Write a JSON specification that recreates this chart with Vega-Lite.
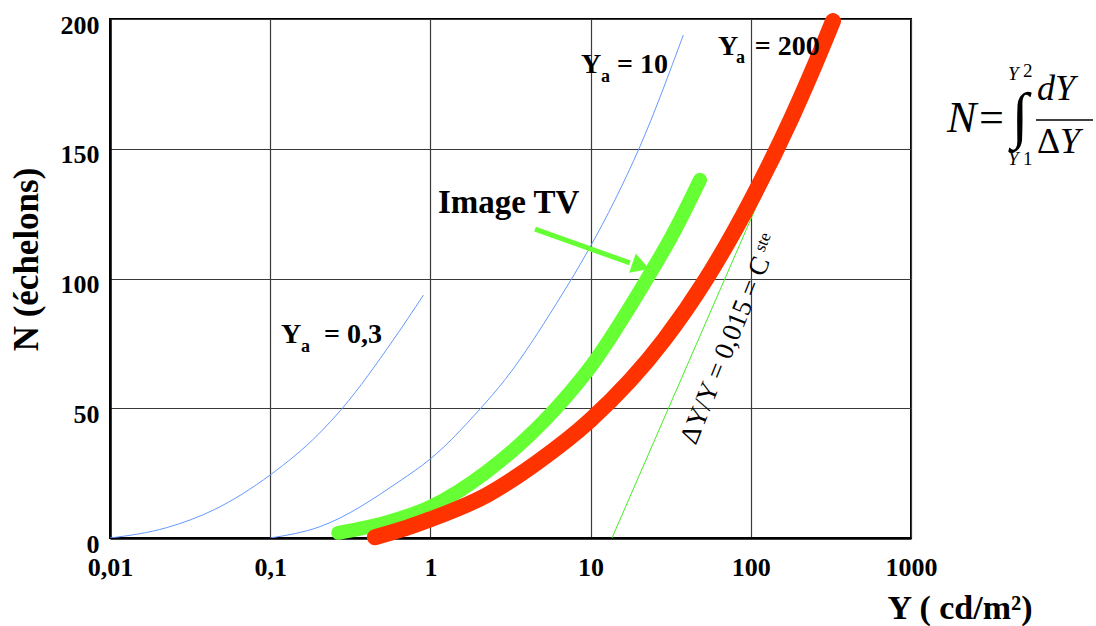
{
  "$schema": "https://vega.github.io/schema/vega-lite/v6.json",
  "width": 801,
  "height": 519,
  "autosize": "none",
  "padding": {"left": 110, "top": 19, "right": 185, "bottom": 88},
  "background": "white",
  "config": {
    "view": {"stroke": "black", "strokeWidth": 2},
    "font": "Liberation Serif",
    "text": {"font": "Liberation Serif", "color": "black"}
  },
  "datasets": {
    "red": [
      {"Y": 0.45, "N": 0.3}, {"Y": 0.7, "N": 3.8}, {"Y": 1.0, "N": 7.2}, {"Y": 2.24, "N": 16.5},
      {"Y": 4.61, "N": 29}, {"Y": 10, "N": 45.5}, {"Y": 28.7, "N": 76.3},
      {"Y": 52.5, "N": 99.7}, {"Y": 100, "N": 130}, {"Y": 180, "N": 162}, {"Y": 250, "N": 182}, {"Y": 326, "N": 199.2}
    ],
    "green": [
      {"Y": 0.266, "N": 2.0}, {"Y": 0.53, "N": 6}, {"Y": 1.0, "N": 12}, {"Y": 2.24, "N": 25.5},
      {"Y": 6.08, "N": 50}, {"Y": 10, "N": 66}, {"Y": 22.4, "N": 99.7}, {"Y": 32.8, "N": 117.4},
      {"Y": 48.2, "N": 138}
    ],
    "blueA": [
      {"Y": 0.01, "N": 0}, {"Y": 0.0226, "N": 4}, {"Y": 0.045, "N": 11}, {"Y": 0.1, "N": 24.3},
      {"Y": 0.2, "N": 40}, {"Y": 0.282, "N": 50}, {"Y": 0.586, "N": 76.3}, {"Y": 0.904, "N": 93.6}
    ],
    "blueB": [
      {"Y": 0.1, "N": 0}, {"Y": 0.205, "N": 4.4}, {"Y": 0.645, "N": 22}, {"Y": 1.0, "N": 30.5},
      {"Y": 2.04, "N": 49.7}, {"Y": 2.92, "N": 61}, {"Y": 6.14, "N": 90.5}, {"Y": 9.9, "N": 112},
      {"Y": 14.2, "N": 130.3}, {"Y": 20.3, "N": 150.8}, {"Y": 37.9, "N": 193.8}
    ],
    "cste": [{"Y": 13.6, "N": 0}, {"Y": 327, "N": 195.8}]
  },
  "encoding": {
    "x": {
      "field": "Y", "type": "quantitative",
      "scale": {"type": "log", "domain": [0.01, 1000], "nice": false},
      "axis": {
        "values": [0.01, 0.1, 1, 10, 100, 1000],
        "labelExpr": "replace(format(datum.value, '~g'), '.', ',')",
        "labelFont": "Liberation Serif", "labelFontSize": 26, "labelFontWeight": "bold", "labelColor": "black",
        "ticks": false, "tickSize": 0, "labelPadding": 16, "labelFlush": false, "labelOverlap": false,
        "domainColor": "black", "domainWidth": 2.5,
        "grid": true, "gridColor": "#3a3a3a", "gridWidth": 1.2,
        "title": "Y ( cd/m²)", "titleFont": "Liberation Serif", "titleFontSize": 34, "titleFontWeight": "bold",
        "titleColor": "black", "titleAlign": "right", "titleBaseline": "alphabetic", "titleX": 922, "titleY": 80
      }
    },
    "y": {
      "field": "N", "type": "quantitative",
      "scale": {"domain": [0, 200], "nice": false, "zero": false},
      "axis": {
        "values": [0, 50, 100, 150, 200],
        "labelFont": "Liberation Serif", "labelFontSize": 26, "labelFontWeight": "bold", "labelColor": "black",
        "ticks": false, "tickSize": 0, "labelPadding": 11, "labelOffset": 6, "labelFlush": false, "labelOverlap": false,
        "domainColor": "black", "domainWidth": 2.5,
        "grid": true, "gridColor": "#3a3a3a", "gridWidth": 1.2,
        "title": "N (échelons)", "titleFont": "Liberation Serif", "titleFontSize": 35, "titleFontWeight": "bold",
        "titleColor": "black", "titleAngle": -90, "titleAlign": "center", "titleBaseline": "alphabetic",
        "titleX": -73, "titleY": 240
      }
    }
  },
  "layer": [
    {"data": {"name": "blueA"}, "mark": {"type": "line", "color": "#6699FF", "strokeWidth": 1, "interpolate": "monotone", "clip": true}},
    {"data": {"name": "blueB"}, "mark": {"type": "line", "color": "#6699FF", "strokeWidth": 1, "interpolate": "monotone", "clip": true}},
    {"data": {"name": "cste"}, "mark": {"type": "line", "color": "#44EE22", "strokeWidth": 1, "clip": true}},
    {"data": {"name": "green"}, "mark": {"type": "line", "color": "#66FF33", "strokeWidth": 14, "strokeCap": "round", "strokeJoin": "round", "interpolate": "monotone"}},
    {"data": {"name": "red"}, "mark": {"type": "line", "color": "#FF3300", "strokeWidth": 16, "strokeCap": "round", "strokeJoin": "round", "interpolate": "monotone"}},
    {
      "data": {"values": [{"Y": 4.5, "N": 119.0, "Y2": 17.6, "N2": 106.0}]},
      "mark": {"type": "rule", "color": "#66FF33", "strokeWidth": 5},
      "encoding": {"x2": {"field": "Y2"}, "y2": {"field": "N2"}}
    },
    {
      "data": {"values": [{"Y": 20.6, "N": 104.8}]},
      "mark": {"type": "point", "shape": "triangle-right", "angle": 19, "size": 420, "filled": true, "color": "#66FF33", "opacity": 1}
    },
    {
      "data": {"values": [{"Y": 1.115, "N": 125.2, "t": "Image TV"}]},
      "mark": {"type": "text", "fontSize": 33, "fontWeight": "bold", "align": "left", "baseline": "alphabetic"},
      "encoding": {"text": {"field": "t"}}
    },
    {
      "data": {"values": [
        {"Y": 0.1168, "N": 75.1, "t": "Y"}, {"Y": 0.2168, "N": 75.1, "t": "= 0,3"},
        {"Y": 8.71, "N": 179.1, "t": "Y"}, {"Y": 14.61, "N": 179.1, "t": "= 10"},
        {"Y": 62.4, "N": 186.1, "t": "Y"}, {"Y": 106, "N": 186.1, "t": "= 200"}
      ]},
      "mark": {"type": "text", "fontSize": 28, "fontWeight": "bold", "align": "left", "baseline": "alphabetic"},
      "encoding": {"text": {"field": "t"}}
    },
    {
      "data": {"values": [
        {"Y": 0.1557, "N": 71.7, "t": "a"}, {"Y": 11.61, "N": 175.7, "t": "a"}, {"Y": 80.8, "N": 182.9, "t": "a"}
      ]},
      "mark": {"type": "text", "fontSize": 18, "fontWeight": "bold", "align": "left", "baseline": "alphabetic"},
      "encoding": {"text": {"field": "t"}}
    },
    {
      "data": {"values": [{"Y": 69.6, "N": 72.3, "t": "ΔY/Y = 0,015 = C"}]},
      "mark": {"type": "text", "fontSize": 27, "angle": -68, "align": "center", "baseline": "middle"},
      "encoding": {"text": {"field": "t"}}
    },
    {
      "data": {"values": [{"Y": 119, "N": 114, "t": "ste"}]},
      "mark": {"type": "text", "fontSize": 17, "angle": -68, "align": "center", "baseline": "middle"},
      "encoding": {"text": {"field": "t"}}
    },
    {
      "data": {"values": [{"Y": 1677.5, "N": 156.6, "t": "N="}]},
      "mark": {"type": "text", "fontSize": 44, "fontStyle": "italic", "align": "left", "baseline": "alphabetic"},
      "encoding": {"text": {"field": "t"}}
    },
    {
      "data": {"values": [{"Y": 4790, "N": 162.4, "t": "∫"}]},
      "mark": {"type": "text", "fontSize": 62, "align": "center", "baseline": "middle"},
      "encoding": {"text": {"field": "t"}}
    },
    {
      "data": {"values": [{"Y": 4032, "N": 176.5, "t": "Y"}, {"Y": 4032, "N": 143.7, "t": "Y"}]},
      "mark": {"type": "text", "fontSize": 19, "fontStyle": "italic", "align": "left", "baseline": "alphabetic"},
      "encoding": {"text": {"field": "t"}}
    },
    {
      "data": {"values": [{"Y": 5000, "N": 177.6, "t": "2"}, {"Y": 5000, "N": 143.7, "t": "1"}]},
      "mark": {"type": "text", "fontSize": 19, "align": "left", "baseline": "alphabetic"},
      "encoding": {"text": {"field": "t"}}
    },
    {
      "data": {"values": [{"Y": 6117, "N": 168.8, "t": "dY"}, {"Y": 8500, "N": 148.4, "t": "Y"}]},
      "mark": {"type": "text", "fontSize": 36, "fontStyle": "italic", "align": "left", "baseline": "alphabetic"},
      "encoding": {"text": {"field": "t"}}
    },
    {
      "data": {"values": [{"Y": 6117, "N": 148.4, "t": "Δ"}]},
      "mark": {"type": "text", "fontSize": 36, "align": "left", "baseline": "alphabetic"},
      "encoding": {"text": {"field": "t"}}
    },
    {
      "data": {"values": [{"Y": 6031, "N": 161.1, "Y2": 13683}]},
      "mark": {"type": "rule", "color": "black", "strokeWidth": 1.5},
      "encoding": {"x2": {"field": "Y2"}}
    }
  ]
}
